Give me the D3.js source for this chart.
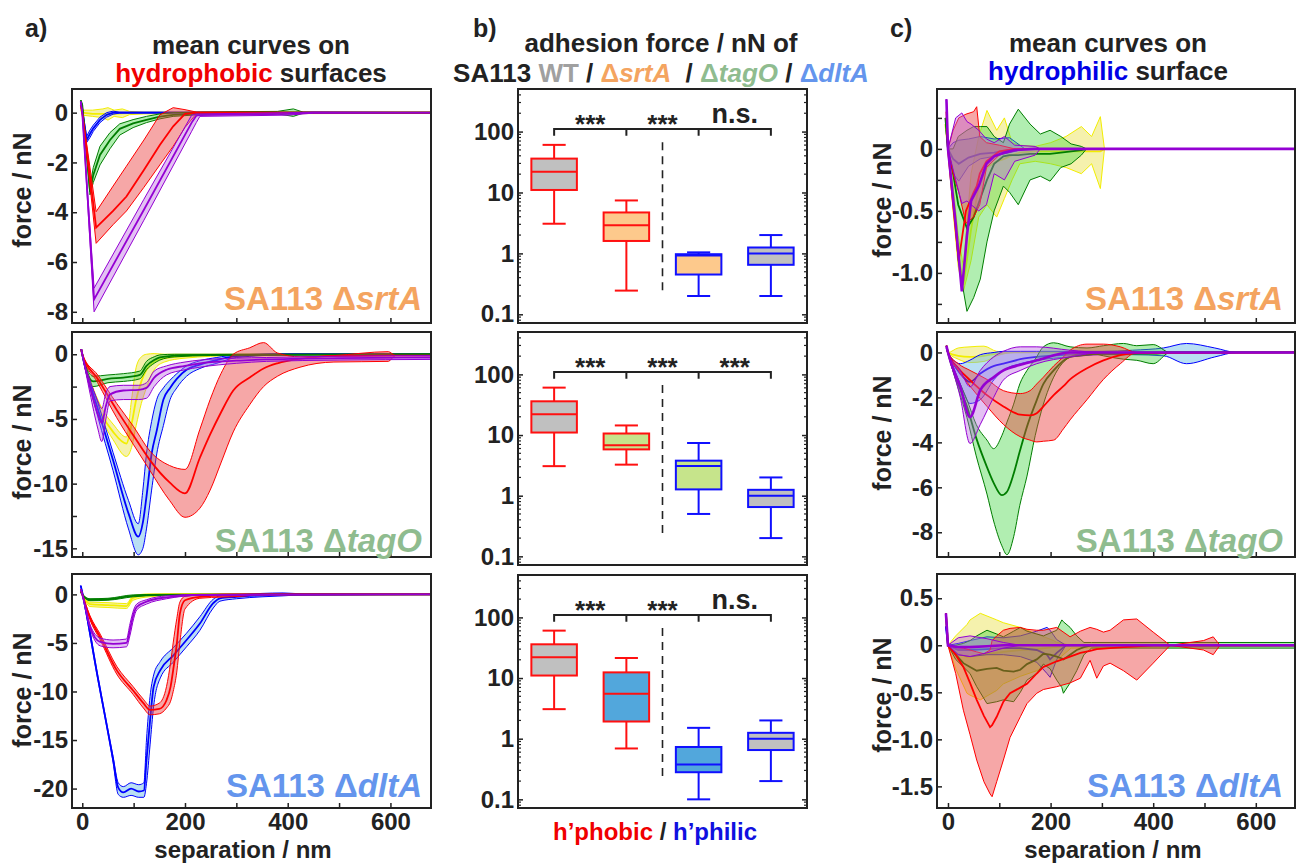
<!DOCTYPE html>
<html>
<head>
<meta charset="utf-8">
<script src="https://cdn.jsdelivr.net/npm/d3@7"></script>
<style>
  body { margin: 0; background: #fff; }
  svg text { font-family: "Liberation Sans", Arial, sans-serif; font-weight: bold; fill: #222; }
</style>
</head>
<body>
<svg id="fig" width="1296" height="863"></svg>
<script>
const svg = d3.select("#fig");

// ---------- force curves: rows are [separation nm, mean, lower, upper] ----------
// a) hydrophobic, srtA
const aSrtYellow = [[-3,0.2,0.1,0.3],[0,0,-0.1,0.1],[20,-0.05,-0.15,0.1],[40,-0.05,-0.2,0.15],[50,-0.05,-0.3,0.2],[62,-0.05,-0.15,0.1],[78,-0.03,-0.2,0.15],[92,-0.02,-0.08,0.05],[120,-0.02,-0.05,0.02],[680,0,-0.03,0.03]];
const aSrtBlue = [[-2,0.4,0.4,0.4],[0,0.1,0.05,0.15],[8.5,-1.1,-1.2,-0.95],[15,-0.85,-1.0,-0.7],[21.5,-0.63,-0.75,-0.5],[34.5,-0.29,-0.4,-0.18],[47.5,-0.09,-0.18,0],[60,0,-0.06,0.06],[72,0,-0.02,0.02],[680,0,0,0]];
const aSrtGreen = [[-3,0.5,0.5,0.5],[0,0.3,0.3,0.3],[8,-1.5,-1.6,-1.4],[15,-3.17,-3.3,-2.95],[21.5,-2.5,-2.8,-2.2],[34.5,-1.7,-2.1,-1.35],[54,-1.1,-1.45,-0.8],[73,-0.65,-0.9,-0.45],[99,-0.43,-0.6,-0.28],[125,-0.29,-0.4,-0.15],[151,-0.16,-0.25,-0.05],[177,-0.09,-0.15,0],[230,-0.03,-0.08,0.02],[300,0,-0.04,0.04],[380,0,-0.05,0.05],[411,0,-0.15,0.15],[430,0,-0.02,0.02],[680,0,0,0]];
const aSrtRed = [[-3,0.3,0.3,0.3],[0,0,0,0],[27,-4.62,-5.25,-3.98],[60,-3.95,-4.5,-2.95],[86,-3.37,-3.95,-2.15],[120,-2.3,-3.0,-1.1],[151,-1.3,-2.1,-0.09],[177,-0.55,-1.35,0.2],[200,-0.05,-0.6,0.12],[223,0,-0.02,0.02],[680,0,0,0]];
const aSrtPurple = [[-3,0.45,0.45,0.45],[0,0,0,0],[23,-7.5,-8.0,-7.05],[120,-3.9,-4.32,-3.48],[213,-0.4,-0.75,-0.1],[222,-0.12,-0.4,-0.05],[229,-0.1,-0.15,-0.05],[400,-0.05,-0.1,0],[450,0,-0.02,0.02],[680,0,0,0]];

// a) hydrophobic, tagO
const aTagYellow = [[-2,0.3,0.3,0.3],[0,0,0,0],[20,-2.8,-3.1,-2.5],[40,-4.8,-5.2,-4.3],[60,-6.0,-6.6,-5.4],[86,-6.9,-7.9,-6.4],[96,-5.4,-7.2,-3.5],[105,-3.5,-5.5,-1.0],[115,-2.1,-3.8,-0.2],[125,-1.2,-2.6,0],[140,-0.6,-1.2,0.05],[160,-0.3,-0.6,0],[200,-0.15,-0.3,0],[300,-0.05,-0.1,0],[680,0,0,0]];
const aTagBlue = [[-2,0.4,0.4,0.4],[0,0,0,0],[30,-4.2,-4.8,-3.7],[60,-8.2,-9.0,-7.6],[90,-12.3,-13.5,-11.3],[109,-14.1,-15.5,-13.1],[118,-13,-15,-10.5],[125,-11,-13.5,-7.7],[135,-7.7,-10.5,-5.2],[145,-5.9,-7.7,-3.5],[158,-3.5,-5.5,-2.6],[171,-2.6,-3.5,-2.0],[184,-1.9,-2.6,-1.5],[203,-1.2,-1.7,-0.9],[229,-0.8,-1.1,-0.5],[262,-0.45,-0.7,-0.25],[300,-0.15,-0.25,-0.05],[400,0,-0.05,0.03],[680,0,0,0]];
const aTagGreen = [[-2,0.4,0.4,0.4],[0,0,0,0],[10,-1.5,-1.8,-1.2],[21,-2.1,-2.5,-1.7],[50,-1.9,-2.2,-1.6],[80,-1.8,-2.1,-1.5],[112,-1.6,-1.9,-1.3],[125,-0.9,-1.2,-0.55],[140,-0.45,-0.7,-0.2],[151,-0.25,-0.45,-0.05],[180,-0.1,-0.2,0],[250,-0.05,-0.1,0],[680,0,0,0]];
const aTagRed = [[-2,0.4,0.4,0.4],[0,0,0,0],[30,-1.9,-2.2,-1.6],[67,-4.3,-4.9,-3.8],[100,-6.3,-7.0,-5.6],[132,-8.2,-9.0,-7.5],[170,-9.9,-11.3,-8.6],[200,-10.75,-12.6,-8.9],[229,-8.0,-11.9,-5.8],[249,-6.2,-10.5,-3.5],[270,-4.5,-8.4,-1.5],[294,-2.8,-6.0,0],[326,-1.8,-3.9,0.5],[353,-1.1,-2.5,0.9],[380,-0.7,-1.7,0.1],[424,-0.35,-1.0,-0.2],[490,-0.15,-0.6,-0.1],[596,-0.1,-0.55,0.2],[610,-0.1,-0.1,-0.1],[680,-0.1,-0.1,-0.1]];
const aTagPurple = [[-2,0.4,0.4,0.4],[0,0,0,0],[15,-2.5,-3.0,-2.0],[30,-4.6,-5.7,-3.6],[38,-5.3,-6.75,-4.2],[46,-4.0,-5.0,-3.0],[54,-3.1,-3.6,-2.5],[80,-2.8,-3.5,-2.4],[110,-2.75,-3.5,-2.4],[125,-2.6,-3.4,-2.2],[140,-1.8,-2.5,-1.3],[164,-1.2,-1.6,-0.9],[200,-0.9,-1.2,-0.6],[229,-0.7,-1.0,-0.45],[300,-0.5,-0.7,-0.3],[359,-0.4,-0.55,-0.25],[500,-0.3,-0.45,-0.15],[680,-0.25,-0.4,-0.1]];

// a) hydrophobic, dltA
const aDltYellow = [[-3,0.3,0.3,0.3],[0,0,0,0],[15,-1.0,-1.25,-0.8],[50,-1.1,-1.35,-0.85],[86,-1.2,-1.45,-0.95],[99,-0.35,-0.6,-0.15],[130,-0.1,-0.25,0.05],[200,0,-0.08,0.08],[680,0,0,0]];
const aDltBlue = [[-3,0.9,0.9,0.9],[0,0.2,0.1,0.3],[30,-8.5,-8.7,-8.3],[60,-17,-17.3,-16.7],[70,-19.9,-20.6,-19.4],[80,-20.4,-20.9,-19.8],[95,-20.0,-20.7,-19.4],[110,-20.3,-20.9,-19.6],[120,-20.2,-20.9,-19.4],[125,-17.1,-19.5,-15.0],[132,-13,-15.5,-10.5],[139,-9.5,-11.5,-8.3],[152,-7.8,-8.6,-6.9],[177,-6.3,-7.0,-5.5],[203,-4.7,-5.4,-4.0],[229,-3.0,-3.7,-2.3],[255,-0.9,-1.4,-0.5],[268,-0.4,-0.7,-0.15],[300,-0.25,-0.45,-0.05],[350,-0.1,-0.25,0.1],[391,0,-0.15,0.15],[430,0,-0.05,0.05],[680,0,0,0]];
const aDltGreen = [[-3,0.3,0.3,0.3],[0,0,0,0],[15,-0.55,-0.65,-0.45],[50,-0.5,-0.6,-0.4],[99,-0.15,-0.25,-0.05],[150,-0.05,-0.1,0],[680,0,0,0]];
const aDltRed = [[-3,0.5,0.5,0.5],[0,0,0,0],[15,-2.4,-2.6,-2.2],[35,-4.4,-4.7,-4.1],[67,-7.8,-8.2,-7.4],[99,-9.9,-10.3,-9.5],[119,-11.2,-11.7,-10.8],[132,-11.9,-12.4,-11.5],[150,-11.8,-12.3,-11.2],[164,-10.9,-11.7,-9.5],[172,-9.5,-11,-7],[177,-7.8,-10,-5],[184,-5.1,-8,-2.5],[190,-2.0,-5,-0.8],[200,-0.6,-1.5,-0.2],[229,-0.25,-0.4,-0.05],[320,-0.05,-0.15,0.05],[340,0,0,0],[680,0,0,0]];
const aDltPurple = [[-3,0.5,0.5,0.5],[0,0,0,0],[15,-3.3,-3.5,-3.1],[35,-4.9,-5.3,-4.5],[60,-5.1,-5.5,-4.7],[86,-5.0,-5.4,-4.6],[93,-3.6,-4.2,-3.0],[100,-2.0,-2.5,-1.6],[106,-1.3,-1.6,-1.0],[125,-0.75,-1.0,-0.55],[164,-0.3,-0.45,-0.15],[229,-0.05,-0.1,0],[680,0,0,0]];

// c) hydrophilic, srtA
const cSrtYellow = [[-5,0.2,0.2,0.2],[0,0,0,0],[10,-0.4,-0.5,-0.3],[20,-0.85,-0.95,-0.7],[30,-1.1,-1.15,-0.95],[45,-0.65,-0.9,-0.2],[60,-0.3,-0.55,0.1],[76,-0.15,-0.45,0.31],[95,-0.1,-0.55,0.15],[110,-0.08,-0.4,0.25],[125,-0.05,-0.25,0.05],[140,-0.03,-0.12,0.03],[170,-0.02,-0.1,0.02],[200,-0.02,-0.12,0.05],[230,-0.02,-0.15,0.1],[260,-0.02,-0.2,0.18],[280,-0.02,-0.12,0.1],[297,-0.02,-0.32,0.26],[305,0,0,0],[680,0,0,0]];
const cSrtBlue = [[-3,0.15,0.15,0.15],[0,0,0,0],[10,-0.08,-0.2,0.05],[21,-0.12,-0.26,0.07],[40,-0.07,-0.14,0.08],[63,-0.04,-0.08,0.1],[90,-0.03,-0.06,0.08],[120,-0.01,-0.03,0.09],[150,0,0,0],[680,0,0,0]];
const cSrtGreen = [[-5,0.25,0.25,0.25],[0,0,0,0],[10,-0.2,-0.4,0],[20,-0.45,-0.9,0.1],[37,-0.64,-1.31,0.15],[50,-0.55,-1.2,0.18],[63,-0.4,-1.05,0.18],[76,-0.25,-0.75,0.18],[90,-0.12,-0.5,0.1],[108,-0.06,-0.3,0.05],[120,-0.05,-0.35,0.2],[137,-0.05,-0.45,0.32],[160,-0.04,-0.25,0.2],[180,-0.04,-0.22,0.12],[199,-0.04,-0.26,0.15],[220,-0.03,-0.15,0.1],[240,-0.02,-0.12,0.04],[260,-0.01,-0.05,0.02],[270,0,0,0],[680,0,0,0]];
const cSrtRed = [[-3,0.3,0.3,0.3],[0,0,0,0],[10,-0.45,-0.2,0.15],[21,-0.9,-0.35,0.25],[35,-0.5,-0.6,0.28],[50,-0.35,-0.55,0.3],[56,-0.3,-0.5,0.34],[62,-0.2,-0.45,0.1],[75,-0.1,-0.15,0.05],[100,-0.02,-0.05,0.03],[130,0,0,0],[680,0,0,0]];
const cSrtPurple = [[-3,0.4,0.4,0.4],[0,0,0,0],[15,-0.6,-0.25,0.25],[27,-1.15,-0.44,0.29],[37,-0.7,-0.42,0.22],[45,-0.42,-0.45,0.2],[60,-0.3,-0.5,0.15],[75,-0.12,-0.45,0.08],[90,-0.06,-0.2,0.05],[110,-0.03,-0.25,0.1],[130,-0.01,-0.1,0.03],[170,0,-0.05,0.02],[180,0,0,0],[680,0,0,0]];

// c) hydrophilic, tagO
const cTagYellow = [[-3,0.3,0.3,0.3],[0,0,0,0],[20,-0.15,-0.3,0.2],[43,-0.2,-0.45,0.25],[70,-0.15,-0.4,0.28],[95,-0.05,-0.15,0.05],[130,0,0,0],[680,0,0,0]];
const cTagBlue = [[-3,0.2,0.2,0.2],[0,0,0,0],[24,-0.94,-1.4,-0.5],[43,-1.31,-2.27,-0.34],[63,-0.94,-2.1,-0.1],[90,-0.6,-1.2,0],[108,-0.5,-0.8,0.05],[141,-0.3,-0.5,0.05],[173,-0.2,-0.35,0.05],[238,-0.1,-0.2,0.05],[300,-0.05,-0.1,0.05],[360,0,-0.1,0.1],[420,0,-0.15,0.2],[465,0,-0.5,0.4],[520,0,-0.2,0.2],[563,0,0,0],[680,0,0,0]];
const cTagGreen = [[-3,0.3,0.3,0.3],[0,0,0,0],[20,-1.4,-1.6,-1.2],[37,-2.4,-2.9,-2.1],[55,-3.8,-4.6,-3.2],[76,-5.1,-6.3,-3.9],[89,-5.8,-7.5,-4.28],[105,-6.35,-8.6,-3.7],[115,-6.2,-9.0,-3.1],[128,-5.4,-8.2,-2.3],[140,-4.4,-6.8,-1.4],[154,-3.3,-5.5,-0.8],[170,-2.3,-3.7,-0.3],[186,-1.4,-2.3,0.25],[206,-0.8,-1.1,0.43],[238,-0.2,-0.2,0.25],[271,-0.1,0,0.2],[303,-0.05,-0.15,0.3],[342,-0.05,-0.3,0.4],[368,-0.05,-0.35,0.3],[400,-0.05,-0.5,0.35],[433,0,0,0],[680,0,0,0]];
const cTagRed = [[-3,0.3,0.3,0.3],[0,0,0,0],[20,-0.7,-0.8,-0.5],[43,-1.23,-1.5,-0.8],[76,-1.9,-2.4,-1.2],[108,-2.4,-3.2,-1.7],[141,-2.77,-3.75,-1.83],[160,-2.8,-3.9,-1.7],[173,-2.7,-3.98,-1.4],[186,-2.4,-3.95,-1.1],[206,-1.9,-3.9,-0.6],[225,-1.5,-3.4,-0.2],[238,-1.2,-3.0,0.1],[271,-0.7,-2.1,0.37],[303,-0.35,-1.2,0.37],[336,-0.12,-0.5,0.25],[368,-0.03,0,0],[680,0,0,0]];
const cTagPurple = [[-3,0.3,0.3,0.3],[0,0,0,0],[24,-1.53,-2.0,-0.8],[43,-2.87,-4.05,-1.53],[63,-1.68,-3.2,-0.8],[89,-1.1,-2.0,-0.2],[108,-0.8,-1.23,0.05],[141,-0.55,-0.8,0.25],[173,-0.35,-0.5,0.25],[238,0,-0.2,0.1],[303,0,0,0],[680,0,0,0]];

// c) hydrophilic, dltA
const cDltYellow = [[-4,0.34,0.34,0.34],[0,0,0,0],[15,-0.08,-0.25,0.1],[37,-0.12,-0.51,0.22],[43,-0.12,-0.53,0.27],[63,-0.1,-0.58,0.34],[95,-0.08,-0.48,0.27],[108,-0.07,-0.41,0.24],[141,-0.05,-0.33,0.19],[173,-0.04,-0.27,0.12],[206,-0.02,-0.18,0.05],[212,-0.02,-0.16,0.03],[240,0,-0.03,0],[680,0,0,0]];
const cDltBlue = [[-4,0.2,0.2,0.2],[0,0,0,0],[20,-0.05,-0.1,0.02],[43,-0.05,-0.12,0.05],[76,-0.04,-0.1,0.09],[108,-0.03,-0.1,0.08],[141,-0.03,-0.12,0.1],[173,-0.05,-0.18,0.15],[193,-0.1,-0.3,0.19],[199,-0.15,-0.34,0.16],[212,-0.08,-0.15,0.06],[230,0,0,0],[680,0,0,0]];
const cDltGreen = [[-4,0.34,0.34,0.34],[0,0,0,0],[15,-0.1,-0.15,0],[30,-0.19,-0.23,0.02],[43,-0.23,-0.3,0.05],[56,-0.27,-0.44,0.1],[76,-0.25,-0.62,0.16],[95,-0.24,-0.6,0.12],[108,-0.27,-0.58,0.09],[128,-0.28,-0.6,0.15],[141,-0.26,-0.5,0.19],[154,-0.2,-0.37,0.15],[173,-0.15,-0.3,0.12],[186,-0.09,-0.2,0.1],[199,-0.1,-0.25,0.13],[212,-0.12,-0.37,0.16],[222,-0.14,-0.45,0.27],[225,-0.15,-0.51,0.25],[238,-0.1,-0.4,0.19],[251,-0.05,-0.27,0.1],[265,-0.02,-0.1,0.03],[280,0,-0.03,0.03],[680,0,-0.03,0.03]];
const cDltRed = [[-4,0.34,0.34,0.34],[0,0,0,0],[15,-0.1,-0.3,-0.02],[30,-0.23,-0.69,-0.03],[43,-0.4,-0.95,-0.05],[56,-0.58,-1.22,-0.07],[70,-0.75,-1.45,-0.09],[82,-0.87,-1.58,-0.05],[86,-0.85,-1.61,0.05],[95,-0.76,-1.45,0.1],[108,-0.6,-1.22,0.16],[121,-0.51,-0.98,0.18],[141,-0.45,-0.76,0.19],[154,-0.41,-0.62,0.17],[173,-0.3,-0.51,0.16],[186,-0.23,-0.47,0.16],[212,-0.17,-0.44,0.19],[238,-0.12,-0.4,0.09],[258,-0.08,-0.35,0.15],[277,-0.06,-0.16,0.19],[290,-0.04,-0.35,0.17],[303,-0.035,-0.22,0.14],[316,-0.03,-0.19,0.16],[342,-0.02,-0.27,0.27],[368,-0.01,-0.37,0.28],[400,0,-0.19,0.14],[433,0,0,0],[498,0,-0.05,0.05],[517,0,-0.1,0.09],[530,0,0,0],[680,0,0,0]];
const cDltPurple = [[-4,0.34,0.34,0.34],[0,0,0,0],[20,-0.02,-0.1,0.08],[43,-0.02,-0.12,0.1],[76,-0.01,-0.08,0.07],[108,0,-0.03,0.03],[141,0,0,0],[680,0,0,0]];

// ---------- adhesion forces (box plots): [whisker low, Q1, median, Q3, whisker high] ----------
const boxCategories = ["WT h'phobic", "mutant h'phobic", "mutant h'philic", "WT h'philic"];
const wtPhobic = [3.07, 11, 22, 36, 60.5];
const wtPhilic = [0.2, 0.65, 1.0, 1.25, 2.0];
const srtABoxes = [wtPhobic, [0.245, 1.6, 2.9, 4.7, 7.4], [0.2, 0.45, 0.92, 0.97, 1.04], wtPhilic];
const tagOBoxes = [wtPhobic, [3.25, 5.8, 6.8, 10.6, 14.4], [0.5, 1.27, 3.08, 3.78, 7.4], wtPhilic];
const dltABoxes = [wtPhobic, [0.69, 1.92, 5.5, 12.4, 21.4], [0.1, 0.28, 0.377, 0.73, 1.51], wtPhilic];
const srtASig = ["***", "***", "n.s."];
const tagOSig = ["***", "***", "***"];
const dltASig = ["***", "***", "n.s."];
const logTicks = [0.1, 1, 10, 100];

// ---------- styling ----------
const seriesOrder = ["yellow", "blue", "green", "red", "purple"];
const lineCol = { yellow: "#f2ee00", blue: "#0000ff", green: "#007d00", red: "#ff0000", purple: "#9400d3" };
const bandCol = { yellow: "rgba(232,222,60,0.42)", blue: "rgba(100,185,228,0.45)", green: "rgba(70,215,70,0.42)", red: "rgba(235,60,60,0.45)", purple: "rgba(185,100,225,0.40)" };
const strainCol = { srtA: "#f4a460", tagO: "#8fbc8f", dltA: "#6495ed" };
const mutFill = { srtA: "#fdc98c", tagO: "#c6e48b", dltA: "#52a7dc" };
const dark = "#222";

const colA = [72, 431], colB = [518, 807], colC = [937, 1295];
const rowsAC = [[89, 323], [332, 557], [574, 808]];
const rowsB = [[89, 323], [332, 565], [575, 808]];

const fmtInt = d => String(d);
const fmtDec = d => d === 0 ? "0" : d.toFixed(1);

const curvePanels = [
  { id: "a1", xr: colA, yr: rowsAC[0], xDom: [-20, 679], yDom: [-8.45, 0.95], ticks: [0, -2, -4, -6, -8], labels: [0, -2, -4, -6, -8], fmt: fmtInt,
    series: { yellow: aSrtYellow, blue: aSrtBlue, green: aSrtGreen, red: aSrtRed, purple: aSrtPurple }, strain: "srtA", curve: d3.curveLinear, yLabelY: 190, strainY: 310, ylabX: 31, strainX: 422, bottom: false },
  { id: "a2", xr: colA, yr: rowsAC[1], xDom: [-20, 679], yDom: [-15.67, 1.72], ticks: [0, -2.5, -5, -7.5, -10, -12.5, -15], labels: [0, -5, -10, -15], fmt: fmtInt,
    series: { yellow: aTagYellow, blue: aTagBlue, green: aTagGreen, red: aTagRed, purple: aTagPurple }, strain: "tagO", curve: d3.curveMonotoneX, yLabelY: 442, strainY: 552, ylabX: 31, strainX: 422, bottom: false },
  { id: "a3", xr: colA, yr: rowsAC[2], xDom: [-20, 679], yDom: [-22.0, 2.1], ticks: [0, -5, -10, -15, -20], labels: [0, -5, -10, -15, -20], fmt: fmtInt,
    series: { yellow: aDltYellow, blue: aDltBlue, green: aDltGreen, red: aDltRed, purple: aDltPurple }, strain: "dltA", curve: d3.curveMonotoneX, yLabelY: 690, strainY: 797, ylabX: 31, strainX: 422, bottom: true },
  { id: "c1", xr: colC, yr: rowsAC[0], xDom: [-21.4, 676.4], yDom: [-1.404, 0.483], ticks: [0.25, 0, -0.25, -0.5, -0.75, -1.0, -1.25], labels: [0, -0.5, -1.0], fmt: fmtDec,
    series: { yellow: cSrtYellow, blue: cSrtBlue, green: cSrtGreen, red: cSrtRed, purple: cSrtPurple }, strain: "srtA", curve: d3.curveLinear, yLabelY: 200, strainY: 310, ylabX: 891, strainX: 1283, bottom: false },
  { id: "c2", xr: colC, yr: rowsAC[1], xDom: [-21.4, 676.4], yDom: [-9.1, 0.91], ticks: [0, -2, -4, -6, -8], labels: [0, -2, -4, -6, -8], fmt: fmtInt,
    series: { yellow: cTagYellow, blue: cTagBlue, green: cTagGreen, red: cTagRed, purple: cTagPurple }, strain: "tagO", curve: d3.curveMonotoneX, yLabelY: 433, strainY: 552, ylabX: 891, strainX: 1283, bottom: false },
  { id: "c3", xr: colC, yr: rowsAC[2], xDom: [-21.4, 676.4], yDom: [-1.73, 0.758], ticks: [0.5, 0, -0.5, -1.0, -1.5], labels: [0.5, 0, -0.5, -1.0, -1.5], fmt: fmtDec,
    series: { yellow: cDltYellow, blue: cDltBlue, green: cDltGreen, red: cDltRed, purple: cDltPurple }, strain: "dltA", curve: d3.curveLinear, yLabelY: 695, strainY: 797, ylabX: 891, strainX: 1283, bottom: true }
];

const boxPanels = [
  { id: "b1", yr: rowsB[0], boxes: srtABoxes, sig: srtASig, strain: "srtA" },
  { id: "b2", yr: rowsB[1], boxes: tagOBoxes, sig: tagOSig, strain: "tagO" },
  { id: "b3", yr: rowsB[2], boxes: dltABoxes, sig: dltASig, strain: "dltA" }
];

function strainLabel(sel, strain, x, y, size, anchor) {
  const t = sel.append("text").attr("x", x).attr("y", y).attr("text-anchor", anchor)
    .style("font-size", size + "px").style("fill", strainCol[strain]);
  t.append("tspan").text("SA113 \u0394").style("fill", strainCol[strain]);
  t.append("tspan").text(strain).style("font-style", "italic").style("fill", strainCol[strain]);
  return t;
}

function styleAxis(g, size) {
  g.select(".domain").remove();
  g.selectAll(".tick line").attr("stroke", dark).attr("stroke-width", 1.5);
  g.selectAll(".tick text").style("font-size", size + "px").style("font-family", "'Liberation Sans', Arial, sans-serif").style("font-weight", "bold").attr("fill", dark);
}

// ---------- curve panels ----------
curvePanels.forEach(p => {
  const [x0, x1] = p.xr, [y0, y1] = p.yr;
  const x = d3.scaleLinear().domain(p.xDom).range([x0, x1]);
  const y = d3.scaleLinear().domain(p.yDom).range([y1, y0]);

  svg.append("clipPath").attr("id", "clip-" + p.id)
    .append("rect").attr("x", x0).attr("y", y0).attr("width", x1 - x0).attr("height", y1 - y0);
  const g = svg.append("g").attr("clip-path", `url(#clip-${p.id})`);

  seriesOrder.forEach(k => {
    const rows = p.series[k];
    const area = d3.area().x(d => x(d[0])).y0(d => y(d[2])).y1(d => y(d[3])).curve(p.curve);
    g.append("path").attr("d", area(rows)).attr("fill", bandCol[k]);
    [2, 3].forEach(i => {
      const ln = d3.line().x(d => x(d[0])).y(d => y(d[i])).curve(p.curve);
      g.append("path").attr("d", ln(rows)).attr("fill", "none").attr("stroke", lineCol[k]).attr("stroke-width", 1);
    });
    const mean = d3.line().x(d => x(d[0])).y(d => y(d[1])).curve(p.curve);
    const w = (k === "purple" && p.id[0] === "c") ? 2.6 : 1.8;
    g.append("path").attr("d", mean(rows)).attr("fill", "none").attr("stroke", lineCol[k]).attr("stroke-width", w);
  });

  // axes (ticks point inward)
  const ya = svg.append("g").attr("transform", `translate(${x0},0)`)
    .call(d3.axisLeft(y).tickValues(p.ticks).tickSize(-5).tickPadding(4)
      .tickFormat(d => p.labels.includes(d) ? p.fmt(d) : ""));
  styleAxis(ya, 24);

  const xa = svg.append("g").attr("transform", `translate(0,${y1})`)
    .call(d3.axisBottom(x).tickValues([0, 100, 200, 300, 400, 500, 600]).tickSize(-5).tickPadding(5)
      .tickFormat(d => (p.bottom && d % 200 === 0) ? String(d) : ""));
  styleAxis(xa, 24);
  xa.selectAll(".tick text").attr("dy", "0.71em");

  svg.append("rect").attr("x", x0).attr("y", y0).attr("width", x1 - x0).attr("height", y1 - y0)
    .attr("fill", "none").attr("stroke", dark).attr("stroke-width", 2);

  svg.append("text").attr("transform", `translate(${p.ylabX},${p.yLabelY}) rotate(-90)`)
    .attr("text-anchor", "middle").style("font-size", "25px").text("force / nN");

  strainLabel(svg, p.strain, p.strainX, p.strainY, 33, "end");

  if (p.bottom) {
    svg.append("text").attr("x", p.id[0] === "a" ? 243 : 1113).attr("y", 858)
      .attr("text-anchor", "middle").style("font-size", "24px").text("separation / nm");
  }
});

// ---------- box plot panels ----------
boxPanels.forEach(p => {
  const [x0, x1] = colB, [y0, y1] = p.yr;
  const x = d3.scaleLinear().domain([0.5, 4.5]).range([x0, x1]);
  const y = d3.scaleLog().domain([0.072, 500]).range([y1, y0]);
  const g = svg.append("g");

  // dashed separator between h'phobic and h'philic
  g.append("line").attr("x1", x(2.5)).attr("x2", x(2.5)).attr("y1", y(67)).attr("y2", y(0.2))
    .attr("stroke", dark).attr("stroke-width", 1.6).attr("stroke-dasharray", "8,6");

  p.boxes.forEach((b, i) => {
    const pos = i + 1;
    const stroke = i < 2 ? "#ff1010" : "#1010ff";
    const fill = (i === 0 || i === 3) ? "#c0c0c0" : mutFill[p.strain];
    const hw = 0.315, cw = 0.16;
    const bg = g.append("g").attr("stroke", stroke).attr("stroke-width", 2).attr("fill", "none");
    bg.append("line").attr("x1", x(pos)).attr("x2", x(pos)).attr("y1", y(b[0])).attr("y2", y(b[1]));
    bg.append("line").attr("x1", x(pos)).attr("x2", x(pos)).attr("y1", y(b[3])).attr("y2", y(b[4]));
    bg.append("line").attr("x1", x(pos - cw)).attr("x2", x(pos + cw)).attr("y1", y(b[0])).attr("y2", y(b[0]));
    bg.append("line").attr("x1", x(pos - cw)).attr("x2", x(pos + cw)).attr("y1", y(b[4])).attr("y2", y(b[4]));
    bg.append("rect").attr("x", x(pos - hw)).attr("width", x(pos + hw) - x(pos - hw))
      .attr("y", y(b[3])).attr("height", y(b[1]) - y(b[3])).attr("fill", fill);
    bg.append("line").attr("x1", x(pos - hw)).attr("x2", x(pos + hw)).attr("y1", y(b[2])).attr("y2", y(b[2]));
  });

  // significance bracket
  const by = y(110), tickEnd = y(85);
  g.append("path")
    .attr("d", `M${x(1)},${tickEnd}V${by}H${x(4)}V${tickEnd}M${x(2)},${by}V${tickEnd}M${x(3)},${by}V${tickEnd}`)
    .attr("fill", "none").attr("stroke", dark).attr("stroke-width", 2);
  p.sig.forEach((s, i) => {
    const t = g.append("text").attr("x", x(i + 1.5)).attr("text-anchor", "middle").text(s);
    if (s === "n.s.") t.attr("y", by - 6).style("font-size", "27px");
    else t.attr("y", by + 4).style("font-size", "26px");
  });

  // log axes, ticks inward on both sides
  const ya = svg.append("g").attr("transform", `translate(${x0},0)`)
    .call(d3.axisLeft(y).tickValues(logTicks).tickSize(-5).tickPadding(4).tickFormat(d => String(d)));
  styleAxis(ya, 24);
  const yr = svg.append("g").attr("transform", `translate(${x1},0)`)
    .call(d3.axisRight(y).tickValues(logTicks).tickSize(-5).tickFormat(""));
  styleAxis(yr, 24);
  const minor = y.ticks().filter(v => !logTicks.includes(v));
  [[x0, 3], [x1, -3]].forEach(([xx, len]) => {
    g.selectAll(null).data(minor).join("line")
      .attr("x1", xx).attr("x2", xx + len).attr("y1", d => y(d)).attr("y2", d => y(d))
      .attr("stroke", dark).attr("stroke-width", 1.2);
  });

  svg.append("rect").attr("x", x0).attr("y", y0).attr("width", x1 - x0).attr("height", y1 - y0)
    .attr("fill", "none").attr("stroke", dark).attr("stroke-width", 2);
});

// ---------- headings ----------
const head = (x, y, txt, size, anchor) => svg.append("text").attr("x", x).attr("y", y)
  .attr("text-anchor", anchor || "start").style("font-size", size + "px").text(txt);

head(25, 37, "a)", 25);
head(473, 37, "b)", 25);
head(890, 37, "c)", 25);

head(251, 54, "mean curves on", 26, "middle");
const tA = head(251, 82, "", 26, "middle");
tA.append("tspan").text("hydrophobic").style("fill", "#f00000");
tA.append("tspan").text(" surfaces");

head(1108, 52, "mean curves on", 26, "middle");
const tC = head(1108, 80, "", 26, "middle");
tC.append("tspan").text("hydrophilic").style("fill", "#0000e6");
tC.append("tspan").text(" surface");

head(661, 52, "adhesion force / nN of", 26, "middle");
const tB = head(661, 82, "", 26, "middle").style("white-space", "pre");
tB.append("tspan").text("SA113 ");
tB.append("tspan").text("WT").style("fill", "#a0a0a0");
tB.append("tspan").text(" / ");
[["srtA", "  / "], ["tagO", " / "], ["dltA", ""]].forEach(([s, sep]) => {
  tB.append("tspan").text("\u0394").style("fill", strainCol[s]);
  tB.append("tspan").text(s).style("fill", strainCol[s]).style("font-style", "italic");
  if (sep) tB.append("tspan").text(sep);
});

const tBot = head(655, 840, "", 24, "middle");
tBot.append("tspan").text("h\u2019phobic").style("fill", "#f00000");
tBot.append("tspan").text(" / ");
tBot.append("tspan").text("h\u2019philic").style("fill", "#1010e0");
</script>
</body>
</html>
